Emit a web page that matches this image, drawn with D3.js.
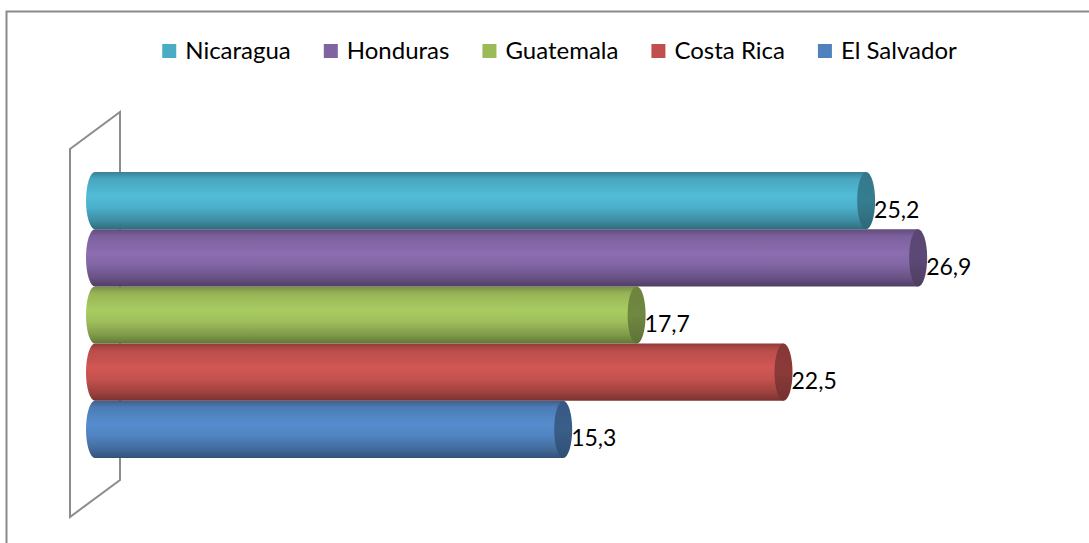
<!DOCTYPE html>
<html>
<head>
<meta charset="utf-8">
<script src="https://cdn.jsdelivr.net/npm/d3@7/dist/d3.min.js"></script>
<style>
  html, body { margin: 0; padding: 0; background: #fff; }
  svg { display: block; }
  text { font-family: Lato, "Open Sans", sans-serif; fill: #000; }
</style>
</head>
<body>
<svg id="chart" width="1089" height="543"></svg>
<script>
// Series, top bar first (legend order)
const countries = ["Nicaragua", "Honduras", "Guatemala", "Costa Rica", "El Salvador"];
const values = [25.2, 26.9, 17.7, 22.5, 15.3];
const valueLabels = ["25,2", "26,9", "17,7", "22,5", "15,3"];
const colors = ["#4BACC6", "#8064A2", "#9BBB59", "#C0504D", "#4F81BD"];

const W = 1089, H = 543;
const svg = d3.select("#chart");

// outer chart frame (runs off the right and bottom of the page)
svg.append("rect")
  .attr("x", 6.5).attr("y", 11.5)
  .attr("width", W + 20).attr("height", H + 20)
  .attr("fill", "none").attr("stroke", "#8a8a8a").attr("stroke-width", 2);

const x = d3.scaleLinear().domain([0, 30]).range([95, 1013]);
const y = d3.scaleBand().domain(countries).range([172, 458]).paddingInner(0).paddingOuter(0);

const rx = 9;

// back wall of the 3D plot, drawn as a slanted panel
const wall = d3.path();
wall.moveTo(70, 149);
wall.lineTo(120, 112);
wall.lineTo(120, 480);
wall.lineTo(70, 517);
wall.closePath();
svg.append("path").attr("d", wall.toString())
  .attr("fill", "none").attr("stroke", "#8c8c8c").attr("stroke-width", 2)
  .attr("stroke-linejoin", "miter");

// shaded gradients for the cylinder bodies and their end caps
const defs = svg.append("defs");
countries.forEach((c, i) => {
  const base = d3.color(colors[i]);
  const g = defs.append("linearGradient")
    .attr("id", "grad" + i).attr("x1", 0).attr("y1", 0).attr("x2", 0).attr("y2", 1);
  const stops = [
    [0, base.darker(0.8)],
    [0.12, base.darker(0.1)],
    [0.42, base.brighter(0.25)],
    [0.62, base.brighter(0.05)],
    [0.85, base.darker(0.55)],
    [1, base.darker(1.3)]
  ];
  stops.forEach(([o, col]) => g.append("stop").attr("offset", o).attr("stop-color", col.formatHex()));

  const cg = defs.append("linearGradient")
    .attr("id", "cap" + i).attr("x1", 0).attr("y1", 0).attr("x2", 0).attr("y2", 1);
  [[0, base.darker(1.0)], [0.5, base.darker(0.9)], [1, base.darker(1.4)]]
    .forEach(([o, col]) => cg.append("stop").attr("offset", o).attr("stop-color", col.formatHex()));
});

// draw bottom series first so upper cylinders sit on top
const order = d3.range(countries.length).reverse();
const bars = svg.append("g");
order.forEach(i => {
  const c = countries[i];
  const y0 = y(c), h = y.bandwidth(), ry = h / 2, cy = y0 + ry;
  const x0 = x(0), x1 = x(values[i]);
  const body = `M${x0},${y0} L${x1},${y0} L${x1},${y0 + h} L${x0},${y0 + h} A${rx},${ry} 0 0 1 ${x0},${y0} Z`;
  bars.append("path").attr("d", body).attr("fill", `url(#grad${i})`);
  bars.append("ellipse")
    .attr("cx", x1).attr("cy", cy).attr("rx", rx).attr("ry", ry)
    .attr("fill", `url(#cap${i})`);
});

// value labels at the end of each cylinder
svg.append("g").selectAll("text")
  .data(countries)
  .join("text")
  .attr("x", (d, i) => x(values[i]) + rx - 1)
  .attr("y", d => y(d) + y.bandwidth() / 2 + 17)
  .attr("font-size", 23)
  .text((d, i) => valueLabels[i]);

// legend across the top
const legend = svg.append("g");
const items = legend.selectAll("g").data(countries).join("g");
items.append("rect").attr("width", 14).attr("height", 14).attr("y", 44)
  .attr("fill", (d, i) => colors[i]);
items.append("text").attr("x", 23).attr("y", 58.5).attr("font-size", 24).text(d => d);
let cursor = 0;
const gap = 33;
const offsets = [];
items.each(function () {
  offsets.push(cursor);
  const tw = d3.select(this).select("text").node().getComputedTextLength();
  cursor += 23 + tw + gap;
});
const total = cursor - gap;
const start = 559.5 - total / 2;
items.attr("transform", (d, i) => `translate(${start + offsets[i]},0)`);
</script>
</body>
</html>
